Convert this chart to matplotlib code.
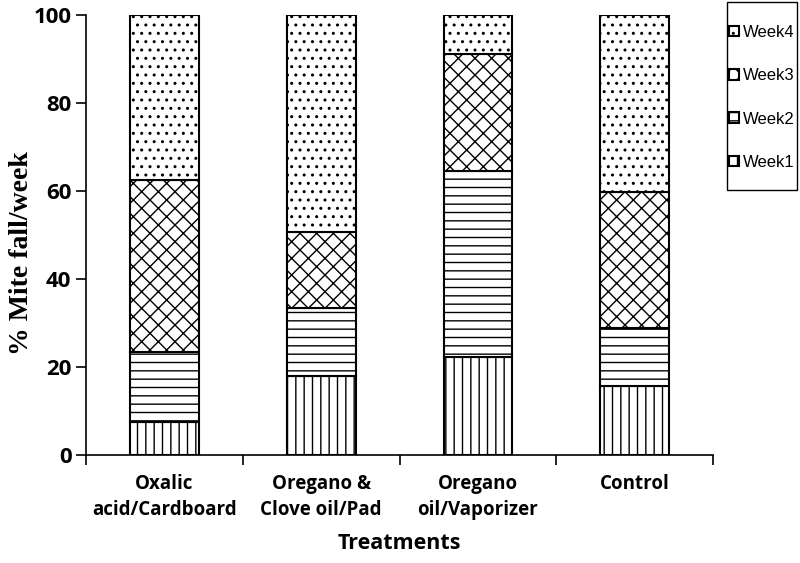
import numpy as np
import matplotlib
matplotlib.use("Agg")
import matplotlib.pyplot as plt
from matplotlib.patches import Rectangle
from matplotlib.ticker import FixedLocator

treatments = ["Oxalic\nacid/Cardboard", "Oregano &\nClove oil/Pad",
              "Oregano\noil/Vaporizer", "Control"]
week1 = [7.5, 18.0, 22.3, 15.7]
week2 = [15.9, 15.4, 42.2, 13.2]
week3 = [39.1, 17.3, 26.6, 30.9]
week4 = [37.5, 49.3, 8.9, 40.2]

series = [("Week1", week1, "||"), ("Week2", week2, "--"),
          ("Week3", week3, "xx"), ("Week4", week4, "..")]

plt.rcParams['hatch.linewidth'] = 1.0

fig = plt.figure(figsize=(8, 5.63), dpi=100)
ax = fig.add_axes([0.1075, 0.192, 0.784, 0.781])

x = np.arange(len(treatments))
bottom = np.zeros(len(treatments))
handles = []
for name, vals, hatch in series:
    b = ax.bar(x, vals, 0.44, bottom=bottom, color="white", edgecolor="black",
               hatch=hatch, linewidth=1.5, label=name)
    handles.append(b)
    bottom += np.array(vals)

ax.set_xlim(-0.5, len(treatments) - 0.5)
ax.set_ylim(0, 100)
ax.set_yticks([0, 20, 40, 60, 80, 100])
ax.spines['top'].set_visible(False)
ax.spines['right'].set_visible(False)
ax.spines['left'].set_linewidth(1.2)
ax.spines['bottom'].set_linewidth(1.2)
ax.tick_params(axis='y', direction='out', length=7, width=1.2, labelsize=16)
for lab in ax.get_yticklabels():
    lab.set_fontweight('bold')
    lab.set_family('Open Sans')

ax.set_xticks(x)
ax.set_xticklabels(treatments, fontsize=13.5, fontweight='bold', family='Open Sans',
                   linespacing=1.35)
ax.tick_params(axis='x', which='major', length=0, pad=14)
ax.xaxis.set_minor_locator(FixedLocator(np.arange(len(treatments) + 1) - 0.5))
ax.tick_params(axis='x', which='minor', direction='out', length=7, width=1.2)

ax.set_xlabel("Treatments", fontsize=15.5, fontweight='bold', family='Open Sans', labelpad=10)
ax.set_ylabel("% Mite fall/week", fontsize=20, fontweight='bold',
              family='Liberation Serif')
ax.yaxis.set_label_coords(-0.083, 0.46)

# legend frame drawn separately (wide vertical padding, tight horizontally)
fig.patches.append(Rectangle((727 / 800, 1 - 190 / 563), 70 / 800, 188 / 563,
                             transform=fig.transFigure, facecolor='white',
                             edgecolor='black', linewidth=1.0, zorder=1))
leg = fig.legend(handles[::-1], [s[0] for s in series][::-1],
                 loc='upper right', bbox_to_anchor=(795 / 800, 1 - 25 / 563),
                 frameon=False, labelspacing=1.7, handlelength=0.6,
                 handleheight=0.6, handletextpad=0.25, borderpad=0,
                 borderaxespad=0, prop={'family': 'Liberation Sans', 'size': 12})
leg.set_zorder(3)

fig.savefig("out.png", dpi=100)
